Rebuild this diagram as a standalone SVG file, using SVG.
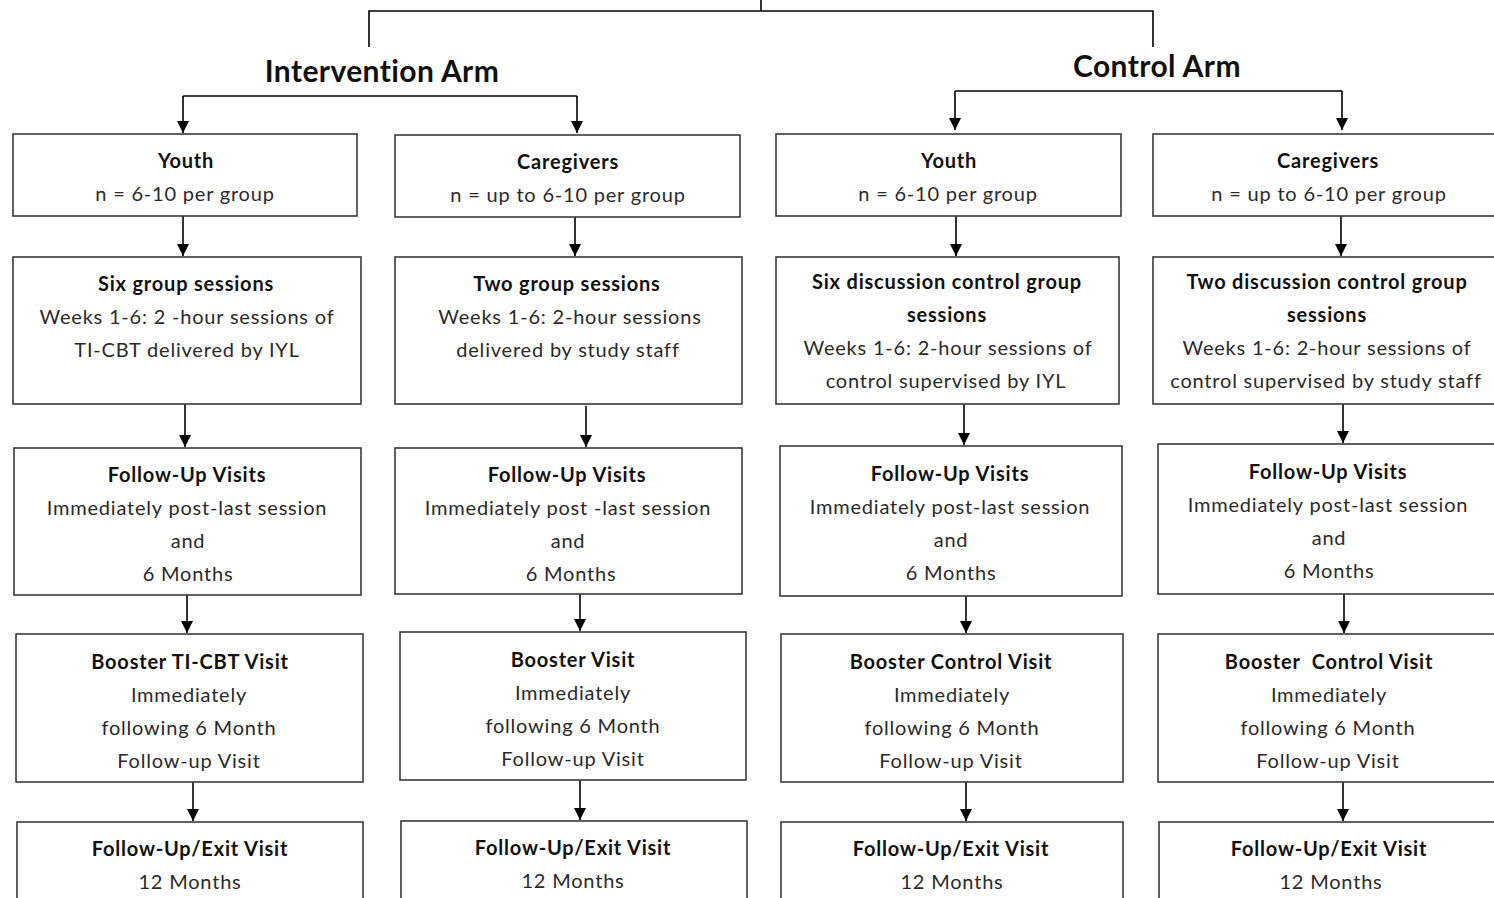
<svg xmlns="http://www.w3.org/2000/svg" width="1494" height="898" viewBox="0 0 1494 898">
<defs>
<marker id="ah" viewBox="0 0 10 10" refX="10" refY="5" markerWidth="12" markerHeight="14" markerUnits="userSpaceOnUse" orient="auto">
<path d="M0,0 L10,5 L0,10 z" fill="#000"/>
</marker>
<style>
.box{fill:#fff;stroke:#3a3a3a;stroke-width:1.6}
.t{font-family:Lato,"Open Sans",sans-serif;font-size:20px;letter-spacing:0.8px;fill:#2a2a2a;text-anchor:middle}
.b{font-weight:bold;fill:#111}
.h{font-family:Lato,"Open Sans",sans-serif;font-size:30px;letter-spacing:0.4px;font-weight:bold;fill:#111;text-anchor:middle}
.c{fill:none;stroke:#000;stroke-width:1.6}
.a{fill:none;stroke:#000;stroke-width:1.6;marker-end:url(#ah)}
</style>
</defs>
<rect width="1494" height="898" fill="#fff"/>
<g id="connectors">
<path class="c" d="M761,0 V11 M369,47 V11 H1153 V47"/>
<path class="a" d="M183,96 H577 M183,96 V133"/>
<path class="a" d="M577,96 V133"/>
<path class="a" d="M955,91 H1342 M955,91 V130"/>
<path class="a" d="M1342,91 V130"/>
<path class="a" d="M183,216 V256"/>
<path class="a" d="M185,404 V447"/>
<path class="a" d="M187,595 V633"/>
<path class="a" d="M193,782 V821"/>
<path class="a" d="M575,217 V256"/>
<path class="a" d="M586,406 V447"/>
<path class="a" d="M580,594 V631"/>
<path class="a" d="M580,780 V820"/>
<path class="a" d="M956,216 V256"/>
<path class="a" d="M964,404 V445"/>
<path class="a" d="M966,596 V633"/>
<path class="a" d="M966,782 V821"/>
<path class="a" d="M1341,216 V256"/>
<path class="a" d="M1343,404 V443"/>
<path class="a" d="M1344,594 V633"/>
<path class="a" d="M1343,782 V821"/>
</g>
<g id="title-intervention"><text class="h" x="382" y="82">Intervention Arm</text></g>
<g id="title-control"><text class="h" x="1157" y="77">Control Arm</text></g>

<g id="i-youth"><rect class="box" x="13" y="134" width="344" height="82"/>
<text class="t b" x="186" y="168">Youth</text><text class="t" x="185" y="201">n = 6-10 per group</text></g>
<g id="i-care"><rect class="box" x="395" y="135" width="345" height="82"/>
<text class="t b" x="568" y="169">Caregivers</text><text class="t" x="568" y="202">n = up to 6-10 per group</text></g>
<g id="c-youth"><rect class="box" x="776" y="134" width="345" height="82"/>
<text class="t b" x="949" y="168">Youth</text><text class="t" x="948" y="201">n = 6-10 per group</text></g>
<g id="c-care"><rect class="box" x="1153" y="134" width="360" height="82"/>
<text class="t b" x="1328" y="168">Caregivers</text><text class="t" x="1329" y="201">n = up to 6-10 per group</text></g>

<g id="i-youth-sess"><rect class="box" x="13" y="257" width="348" height="147"/>
<text class="t b" x="186" y="291">Six group sessions</text><text class="t" x="187" y="324">Weeks 1-6: 2 -hour sessions of</text><text class="t" x="187" y="357">TI-CBT delivered by IYL</text></g>
<g id="i-care-sess"><rect class="box" x="395" y="257" width="347" height="147"/>
<text class="t b" x="567" y="291">Two group sessions</text><text class="t" x="570" y="324">Weeks 1-6: 2-hour sessions</text><text class="t" x="568" y="357">delivered by study staff</text></g>
<g id="c-youth-sess"><rect class="box" x="776" y="257" width="343" height="147"/>
<text class="t b" x="947" y="289">Six discussion control group</text><text class="t b" x="947" y="322">sessions</text><text class="t" x="948" y="355">Weeks 1-6: 2-hour sessions of</text><text class="t" x="946" y="388">control supervised by IYL</text></g>
<g id="c-care-sess"><rect class="box" x="1153" y="257" width="360" height="147"/>
<text class="t b" x="1327" y="289">Two discussion control group</text><text class="t b" x="1327" y="322">sessions</text><text class="t" x="1327" y="355">Weeks 1-6: 2-hour sessions of</text><text class="t" x="1326" y="388">control supervised by study staff</text></g>

<g id="i-youth-fu"><rect class="box" x="14" y="448" width="347" height="147"/>
<text class="t b" x="187" y="482">Follow-Up Visits</text><text class="t" x="187" y="515">Immediately post-last session</text><text class="t" x="188" y="548">and</text><text class="t" x="188" y="581">6 Months</text></g>
<g id="i-care-fu"><rect class="box" x="395" y="448" width="347" height="146"/>
<text class="t b" x="567" y="482">Follow-Up Visits</text><text class="t" x="568" y="515">Immediately post -last session</text><text class="t" x="568" y="548">and</text><text class="t" x="571" y="581">6 Months</text></g>
<g id="c-youth-fu"><rect class="box" x="780" y="446" width="342" height="150"/>
<text class="t b" x="950" y="481">Follow-Up Visits</text><text class="t" x="950" y="514">Immediately post-last session</text><text class="t" x="951" y="547">and</text><text class="t" x="951" y="580">6 Months</text></g>
<g id="c-care-fu"><rect class="box" x="1158" y="444" width="355" height="150"/>
<text class="t b" x="1328" y="479">Follow-Up Visits</text><text class="t" x="1328" y="512">Immediately post-last session</text><text class="t" x="1329" y="545">and</text><text class="t" x="1329" y="578">6 Months</text></g>

<g id="i-youth-boost"><rect class="box" x="16" y="634" width="347" height="148"/>
<text class="t b" x="190" y="669">Booster TI-CBT Visit</text><text class="t" x="189" y="702">Immediately</text><text class="t" x="189" y="735">following 6 Month</text><text class="t" x="189" y="768">Follow-up Visit</text></g>
<g id="i-care-boost"><rect class="box" x="400" y="632" width="346" height="148"/>
<text class="t b" x="573" y="667">Booster Visit</text><text class="t" x="573" y="700">Immediately</text><text class="t" x="573" y="733">following 6 Month</text><text class="t" x="573" y="766">Follow-up Visit</text></g>
<g id="c-youth-boost"><rect class="box" x="781" y="634" width="342" height="148"/>
<text class="t b" x="951" y="669">Booster Control Visit</text><text class="t" x="952" y="702">Immediately</text><text class="t" x="952" y="735">following 6 Month</text><text class="t" x="951" y="768">Follow-up Visit</text></g>
<g id="c-care-boost"><rect class="box" x="1158" y="634" width="355" height="148"/>
<text class="t b" x="1329" y="669" xml:space="preserve">Booster  Control Visit</text><text class="t" x="1329" y="702">Immediately</text><text class="t" x="1328" y="735">following 6 Month</text><text class="t" x="1328" y="768">Follow-up Visit</text></g>

<g id="i-youth-exit"><rect class="box" x="17" y="822" width="346" height="100"/>
<text class="t b" x="190" y="856">Follow-Up/Exit Visit</text><text class="t" x="190" y="889">12 Months</text></g>
<g id="i-care-exit"><rect class="box" x="401" y="821" width="346" height="100"/>
<text class="t b" x="573" y="855">Follow-Up/Exit Visit</text><text class="t" x="573" y="888">12 Months</text></g>
<g id="c-youth-exit"><rect class="box" x="781" y="822" width="342" height="100"/>
<text class="t b" x="951" y="856">Follow-Up/Exit Visit</text><text class="t" x="952" y="889">12 Months</text></g>
<g id="c-care-exit"><rect class="box" x="1159" y="822" width="354" height="100"/>
<text class="t b" x="1329" y="856">Follow-Up/Exit Visit</text><text class="t" x="1331" y="889">12 Months</text></g>
</svg>
